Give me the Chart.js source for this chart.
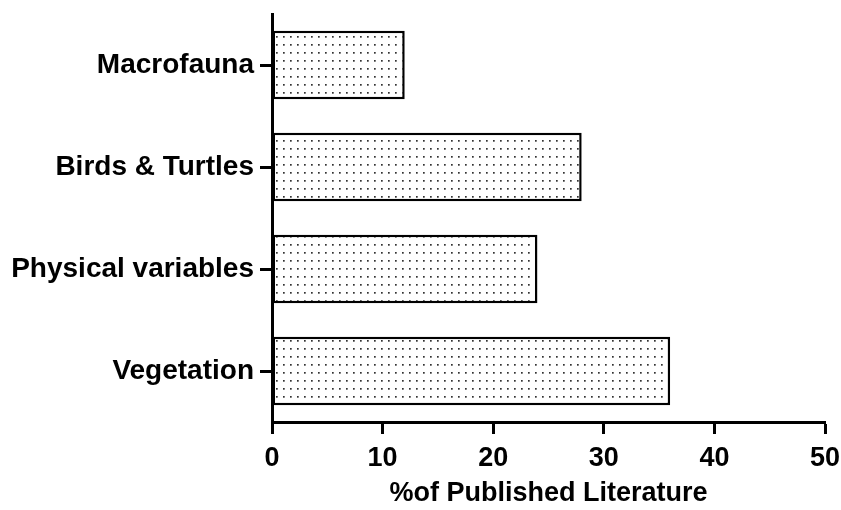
<!DOCTYPE html>
<html>
<head>
<meta charset="utf-8">
<script src="https://cdn.jsdelivr.net/npm/chart.js@4.4.1/dist/chart.umd.min.js"></script>
<style>
  html, body { margin: 0; padding: 0; background: #fff; }
  #wrap { width: 841px; height: 510px; }
</style>
</head>
<body>
<div id="wrap"><canvas id="chart"></canvas></div>
<script>
// data
const categories = ["Macrofauna", "Birds & Turtles", "Physical variables", "Vegetation"];
const percentValues = [12, 28, 24, 36];
const xTicks = [0, 10, 20, 30, 40, 50];

// dotted fill like the original stipple
function dotPattern() {
    const c = document.createElement("canvas");
    c.width = 7;
    c.height = 8;
    const g = c.getContext("2d");
    g.fillStyle = "#fff";
    g.fillRect(0, 0, 7, 8);
    g.fillStyle = "#333";
    g.fillRect(3, 4, 1.7, 1.7);
    return g.createPattern(c, "repeat");
}

const ctx = document.getElementById("chart");
const fontFamily = "'Liberation Sans', Arial, sans-serif";

new Chart(ctx, {
    type: "bar",
    data: {
        labels: categories,
        datasets: [{
            data: percentValues,
            backgroundColor: dotPattern(),
            borderColor: "#000",
            borderWidth: 2.5,
            borderSkipped: false,
            categoryPercentage: 0.67,
            barPercentage: 1
        }]
    },
    options: {
        indexAxis: "y",
        responsive: true,
        maintainAspectRatio: false,
        animation: false,
        layout: { padding: { top: 14, right: 16, left: 0, bottom: 0 } },
        plugins: {
            legend: { display: false },
            tooltip: { enabled: false }
        },
        scales: {
            x: {
                min: 0,
                max: 50,
                afterBuildTicks: function(scale) {
                    scale.ticks = xTicks.map(v => ({ value: v }));
                },
                afterFit: function(scale) {
                    scale.height = 88;
                    scale.paddingLeft = 0;
                    scale.paddingRight = 0;
                },
                border: { display: true, color: "#000", width: 3 },
                grid: { drawOnChartArea: false, drawTicks: true, tickLength: 12, tickWidth: 3, color: "#000" },
                ticks: {
                    color: "#000",
                    padding: 8,
                    font: { family: fontFamily, size: 27, weight: "bold" }
                },
                title: {
                    display: true,
                    text: "%of Published Literature",
                    color: "#000",
                    padding: { top: 0, bottom: 0 },
                    font: { family: fontFamily, size: 27, weight: "bold" }
                }
            },
            y: {
                afterFit: function(scale) {
                    scale.width = 272;
                    scale.paddingTop = 0;
                    scale.paddingBottom = 0;
                },
                border: { display: true, color: "#000", width: 3 },
                grid: { offset: false, drawOnChartArea: false, drawTicks: true, tickLength: 12, tickWidth: 3, color: "#000" },
                ticks: {
                    color: "#000",
                    padding: 6,
                    font: { family: fontFamily, size: 28, weight: "bold" }
                }
            }
        }
    }
});
</script>
</body>
</html>
